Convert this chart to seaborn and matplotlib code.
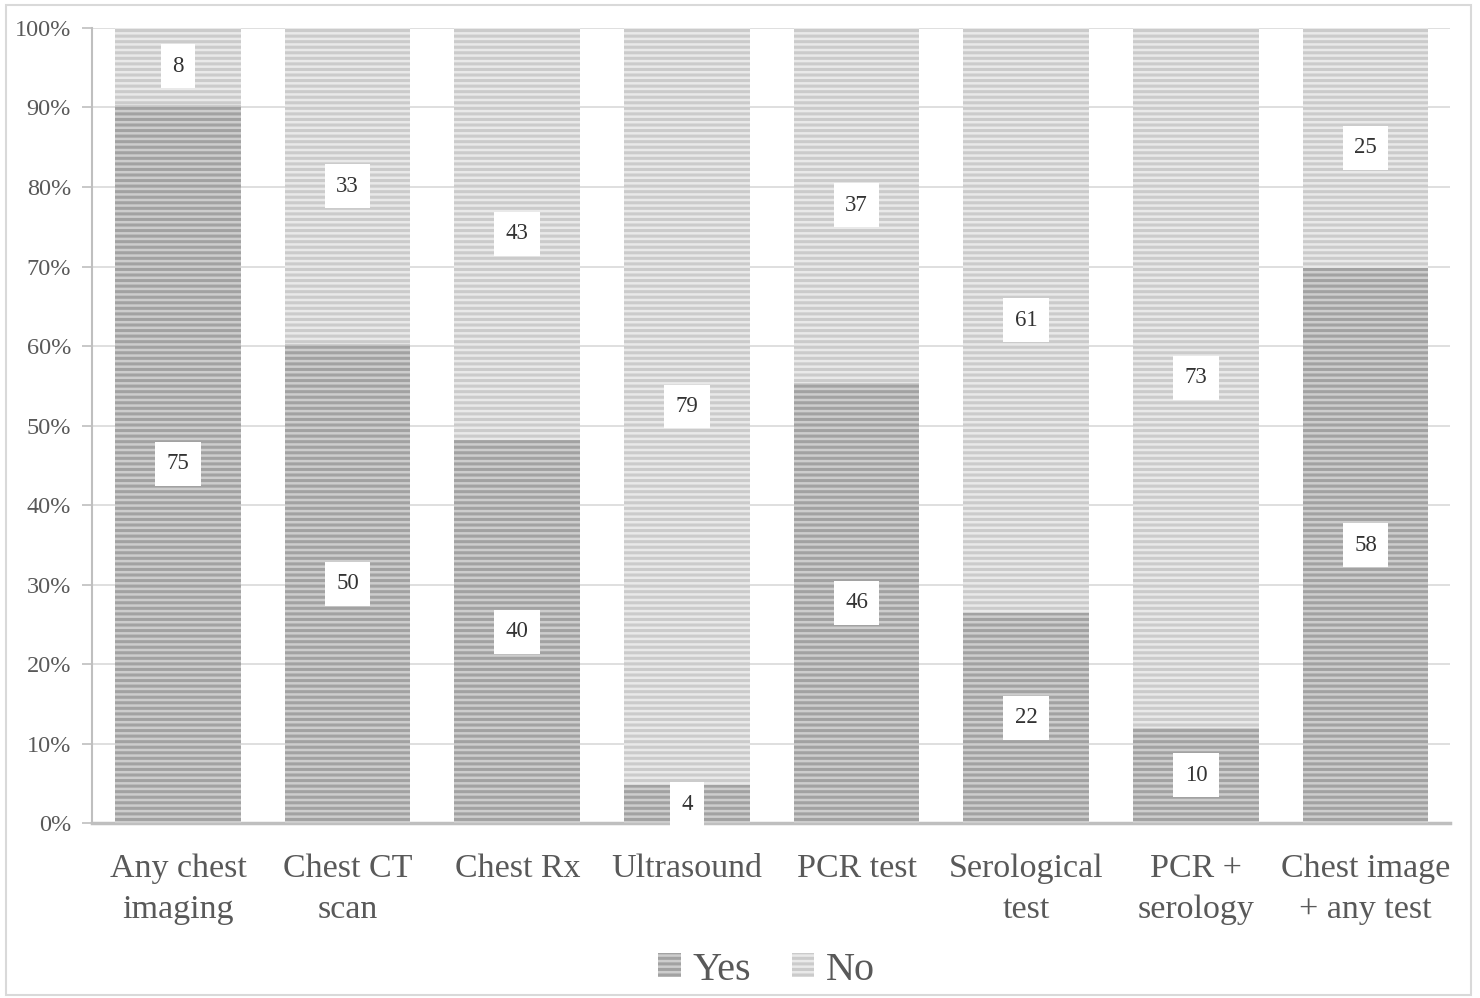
import numpy as np
import pandas as pd
import matplotlib
matplotlib.use("Agg")
import matplotlib.pyplot as plt
import seaborn as sns
from matplotlib.patches import Patch, Rectangle

categories = ["Any chest\nimaging", "Chest CT\nscan", "Chest Rx", "Ultrasound",
              "PCR test", "Serological\ntest", "PCR +\nserology", "Chest image\n+ any test"]
yes_counts = [75, 50, 40, 4, 46, 22, 10, 58]
no_counts = [8, 33, 43, 79, 37, 61, 73, 25]
y_ticks = [0, 10, 20, 30, 40, 50, 60, 70, 80, 90, 100]

sns.set_theme(style="white")
plt.rcParams['font.family'] = ['Liberation Serif', 'DejaVu Serif']
plt.rcParams['hatch.linewidth'] = 2.2

yes = np.array(yes_counts, dtype=float)
no = np.array(no_counts, dtype=float)
total = yes + no
yes_pct = yes / total * 100
df = pd.DataFrame({"cat": categories, "yes": yes_pct, "total": np.full(len(categories), 100.0)})

fig = plt.figure(figsize=(14.8, 9.98), dpi=100)
ax = fig.add_axes([0.062, 0.175, 0.918, 0.797])

YES_FACE, YES_HATCH = "#cdcdcd", "#a2a2a2"
NO_FACE, NO_HATCH = "#e9e9e9", "#cbcbcb"

sns.barplot(data=df, x="cat", y="total", ax=ax, color=NO_FACE, width=0.74,
            saturation=1, zorder=2)
n_no = len(ax.patches)
sns.barplot(data=df, x="cat", y="yes", ax=ax, color=YES_FACE, width=0.74,
            saturation=1, zorder=3)
for i, p in enumerate(ax.patches):
    if i < n_no:
        p.set_facecolor(NO_FACE); p.set_edgecolor(NO_HATCH)
    else:
        p.set_facecolor(YES_FACE); p.set_edgecolor(YES_HATCH)
    p.set_hatch("---")
    p.set_linewidth(0)

# labels
for i in range(len(categories)):
    yc = yes_pct[i] / 2
    nc = yes_pct[i] + (100 - yes_pct[i]) / 2
    for val, yy in ((yes_counts[i], yc), (no_counts[i], nc)):
        ax.text(i, yy, str(val), ha="center", va="center", fontsize=16.5, color="#333333",
                zorder=5, bbox=dict(boxstyle="square,pad=0.5", fc="white", ec="none"))

ax.set_xlim(-0.508, 7.5)
ax.set_ylim(0, 100)
ax.set_yticks(y_ticks)
ax.set_yticklabels([f"{t}%" for t in y_ticks], fontsize=17.5, color="#595959")
ax.yaxis.grid(True, color="#d9d9d9", linewidth=1.2, zorder=0)
ax.set_axisbelow(True)
ax.set_xlabel(""); ax.set_ylabel("")
ax.tick_params(axis="x", labelsize=24.5, labelcolor="#595959", length=0, pad=22)
ax.tick_params(axis="y", length=7, width=1.2, color="#bfbfbf", left=True, pad=8)
for s in ["top", "right"]:
    ax.spines[s].set_visible(False)
ax.spines["left"].set_color("#bfbfbf"); ax.spines["left"].set_linewidth(1.5)
ax.spines["bottom"].set_color("#bfbfbf"); ax.spines["bottom"].set_linewidth(2.5)
for lab in ax.get_xticklabels():
    lab.set_linespacing(1.45)

handles = [Patch(facecolor=YES_FACE, edgecolor=YES_HATCH, hatch="---", linewidth=0, label="Yes"),
           Patch(facecolor=NO_FACE, edgecolor=NO_HATCH, hatch="---", linewidth=0, label="No")]
fig.legend(handles=handles, loc="center", bbox_to_anchor=(0.518, 0.028), ncol=2, frameon=False,
           fontsize=29, labelcolor="#595959", handlelength=0.55, handleheight=0.55,
           handletextpad=0.3, columnspacing=1.0)

fig.add_artist(Rectangle((0.004, 0.003), 0.99, 0.992, transform=fig.transFigure,
                         fill=False, edgecolor="#d9d9d9", linewidth=1.5))

fig.savefig("out.png", dpi=100)
